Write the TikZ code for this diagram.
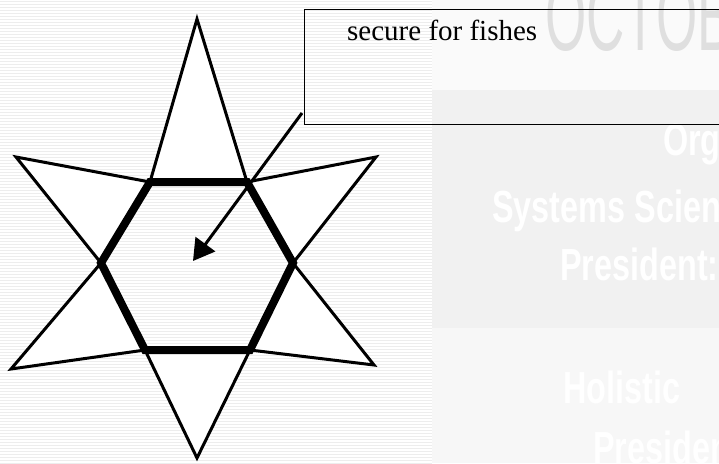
\documentclass[tikz,border=0pt]{standalone}
\usepackage{fontspec}
\setmainfont{Liberation Serif}
\setsansfont{Liberation Sans}
\usetikzlibrary{arrows.meta}
\tikzset{
  spike/.style={draw=black, fill=white, line width=3pt, line join=miter},
  hexedge/.style={draw=black, line width=8pt, line join=miter},
  callout/.style={draw=black, line width=1.4pt, minimum width=430pt, minimum height=115pt, inner sep=0pt, anchor=north west},
  pointer/.style={line width=3pt, -{Triangle[length=21pt,width=24pt]}},
  faint/.style={text=white, font=\sffamily\bfseries\fontsize{45}{45}\selectfont, xscale=0.72, inner sep=0pt, anchor=base west},
}
\begin{document}
\begin{tikzpicture}[x=1pt, y=-1pt]
  \useasboundingbox (0,0) rectangle (719,463);
  \clip (0,0) rectangle (719,463);
  \fill[white] (0,0) rectangle (719,463);
  \foreach \Y in {1,4,...,463} {
    \draw[gray!14, line width=0.9pt] (0,\Y) -- (432,\Y);
  }
  \fill[gray!4] (432,0) rectangle (719,90);
  \fill[gray!11] (432,90) rectangle (719,328);
  \fill[gray!6] (432,328) rectangle (719,463);
  \node[text=gray!25, font=\sffamily\fontsize{100}{100}\selectfont, xscale=0.53, inner sep=0pt, anchor=base west] (month) at (545,50) {OCTOBER};
  \node[faint] (org) at (663,155) {Org};
  \node[faint] (systems) at (492,222) {Systems Science};
  \node[faint] (president) at (560,280) {President: S};
  \node[faint] (holistic) at (563,403) {Holistic};
  \node[faint] (presidenttwo) at (593,463) {President};
  \coordinate (A) at (150,182);
  \coordinate (B) at (247,182);
  \coordinate (C) at (293,263);
  \coordinate (D) at (250,350);
  \coordinate (E) at (145,350);
  \coordinate (F) at (101,263);
  \coordinate (t1) at (197,19);
  \coordinate (t2) at (376,157);
  \coordinate (t3) at (374,365);
  \coordinate (t4) at (197,458);
  \coordinate (t5) at (11,369);
  \coordinate (t6) at (16,157);
  \foreach \P/\T/\Q in {A/t1/B, B/t2/C, C/t3/D, D/t4/E, E/t5/F, F/t6/A} {
    \filldraw[spike] (\P) -- (\T) -- (\Q);
  }
  \draw[hexedge] (A) -- (B) -- (C) -- (D) -- (E) -- (F) -- cycle;
  \node[callout] (note) at (304,9) {};
  \node[font=\fontsize{29}{29}\selectfont, inner sep=0pt, anchor=base west] (notetext) at (347,40) {secure for fishes};
  \coordinate (tail) at (302,113);
  \coordinate (head) at (193,261);
  \draw[pointer] (tail) -- (head);
\end{tikzpicture}
\end{document}
